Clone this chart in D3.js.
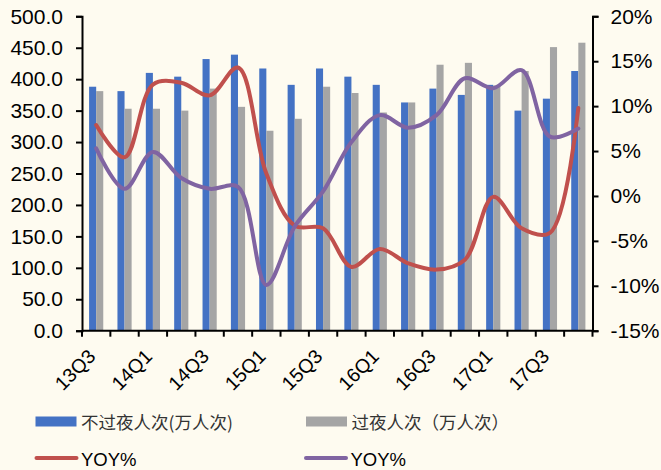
<!DOCTYPE html>
<html>
<head>
<meta charset="utf-8">
<script src="https://cdn.jsdelivr.net/npm/d3@7/dist/d3.min.js"></script>
<style>
  html, body { margin: 0; padding: 0; background: #FEFBF0; }
  svg { display: block; }
  text { font-family: "Liberation Sans", Arial, sans-serif; fill: #000; }
  .cjk { font-family: "Noto Sans CJK SC", sans-serif; fill: #333; }
</style>
</head>
<body>
<script>
// Quarterly visitor counts (10k person-trips) and year-on-year growth (%)
const quarters = ["13Q3","13Q4","14Q1","14Q2","14Q3","14Q4","15Q1","15Q2","15Q3",
                  "15Q4","16Q1","16Q2","16Q3","16Q4","17Q1","17Q2","17Q3","17Q4"];
const dayTrips = [388, 381, 410, 404, 432, 439, 417, 391, 417, 404, 391, 363, 385, 375, 391, 350, 369, 413];
const overnightTrips = [381, 353, 353, 350, 385, 356, 318, 337, 388, 378, 347, 363, 423, 426, 390, 413, 451, 458];
const dayYoy = [7.9, 4.3, 12.4, 12.6, 11.2, 14.3, 2.5, -3.3, -3.6, -7.9, -5.9, -7.5, -8.2, -7.1, -0.1, -3.6, -4.1, 9.8];
const overnightYoy = [5.3, 0.8, 4.9, 2.0, 0.8, 1.0, -9.9, -3.4, 0.5, 6.0, 9.0, 7.6, 9.0, 13.1, 12.0, 14.0, 6.6, 7.5];

const leftTicks = [0, 50, 100, 150, 200, 250, 300, 350, 400, 450, 500];
const rightTicks = [-15, -10, -5, 0, 5, 10, 15, 20];
const labelledQuarters = quarters.filter((d, i) => i % 2 === 0);

const legendItems = [
  { label: "不过夜人次(万人次)", color: "#4472C4", type: "bar", cjk: true },
  { label: "过夜人次（万人次）", color: "#A5A5A5", type: "bar", cjk: true },
  { label: "YOY%", color: "#C0504D", type: "line", cjk: false },
  { label: "YOY%", color: "#8064A2", type: "line", cjk: false }
];

const W = 661, H = 470;
const plotL = 82, plotR = 592.5, plotT = 16.3, plotB = 330.7;

const svg = d3.select("body").append("svg").attr("width", W).attr("height", H);
svg.append("rect").attr("width", W).attr("height", H).attr("fill", "#FEFBF0");

const x = d3.scaleBand().domain(quarters).range([plotL, plotR]).padding(0);
const inner = d3.scaleBand().domain(["day", "night"]).range([0, x.bandwidth()])
  .paddingInner(0).paddingOuter(1);
const yL = d3.scaleLinear().domain([0, 500]).range([plotB, plotT]);
const yR = d3.scaleLinear().domain([-15, 20]).range([plotB, plotT]);

// Bars
const g = svg.append("g");
quarters.forEach((q, i) => {
  g.append("rect")
    .attr("x", x(q) + inner("day"))
    .attr("y", yL(dayTrips[i]))
    .attr("width", inner.bandwidth())
    .attr("height", yL(0) - yL(dayTrips[i]))
    .attr("fill", "#4472C4");
  g.append("rect")
    .attr("x", x(q) + inner("night"))
    .attr("y", yL(overnightTrips[i]))
    .attr("width", inner.bandwidth())
    .attr("height", yL(0) - yL(overnightTrips[i]))
    .attr("fill", "#A5A5A5");
});

// Smoothed YOY lines
const cx = q => x(q) + x.bandwidth() / 2;
const line = vals => d3.line()
  .x((d, i) => cx(quarters[i]))
  .y(d => yR(d))
  .curve(d3.curveCatmullRom.alpha(0.5))(vals);

svg.append("path").attr("d", line(dayYoy))
  .attr("fill", "none").attr("stroke", "#C0504D").attr("stroke-width", 4)
  .attr("stroke-linecap", "round");
svg.append("path").attr("d", line(overnightYoy))
  .attr("fill", "none").attr("stroke", "#8064A2").attr("stroke-width", 4)
  .attr("stroke-linecap", "round");

// Left axis
const axL = svg.append("g").attr("transform", `translate(${plotL},0)`)
  .call(d3.axisLeft(yL).tickValues(leftTicks).tickFormat(d3.format(".1f")).tickSize(6).tickPadding(13));
// Right axis
const axR = svg.append("g").attr("transform", `translate(${plotR},0)`)
  .call(d3.axisRight(yR).tickValues(rightTicks).tickFormat(d => d + "%").tickSize(6).tickPadding(12));
// Bottom axis: ticks at slot boundaries, every second quarter labelled
const boundaries = quarters.map(q => x(q)).concat([plotR]);
const axB = svg.append("g").attr("transform", `translate(0,${plotB})`);
axB.append("line").attr("x1", plotL).attr("x2", plotR).attr("stroke", "#000").attr("stroke-width", 2);
axB.selectAll("line.tk").data(boundaries).enter().append("line").attr("class", "tk")
  .attr("x1", d => d).attr("x2", d => d).attr("y1", 0).attr("y2", 6)
  .attr("stroke", "#000").attr("stroke-width", 2);
axB.selectAll("text").data(labelledQuarters).enter().append("text")
  .attr("transform", d => `translate(${cx(d) + 0.5},${27}) rotate(-45)`)
  .attr("text-anchor", "end")
  .style("font-size", "19.5px")
  .text(d => d);

[axL, axR].forEach(ax => {
  ax.select(".domain").attr("stroke", "#000").attr("stroke-width", 2);
  ax.selectAll(".tick line").attr("stroke", "#000").attr("stroke-width", 2);
  ax.selectAll(".tick text").style("font-size", "21px").attr("fill", "#000")
    .style("font-family", "'Liberation Sans', Arial, sans-serif");
});

// Legend
const legPos = [[35.5, 421.5], [306, 421.5], [35.5, 458], [305, 458]];
legendItems.forEach((it, i) => {
  const [lx, ly] = legPos[i];
  if (it.type === "bar") {
    svg.append("rect").attr("x", lx).attr("y", ly - 5).attr("width", 41).attr("height", 10).attr("fill", it.color);
  } else {
    svg.append("line").attr("x1", lx + 1).attr("x2", lx + 41).attr("y1", ly).attr("y2", ly)
      .attr("stroke", it.color).attr("stroke-width", 4).attr("stroke-linecap", "round");
  }
  const t = svg.append("text").attr("x", lx + 45.5).attr("y", ly)
    .attr("dominant-baseline", "central")
    .style("font-size", it.cjk ? "17.5px" : "18.5px")
    .text(it.label);
  if (it.cjk) t.attr("class", "cjk");
  else t.attr("dy", "0.1em");
});
</script>
</body>
</html>
